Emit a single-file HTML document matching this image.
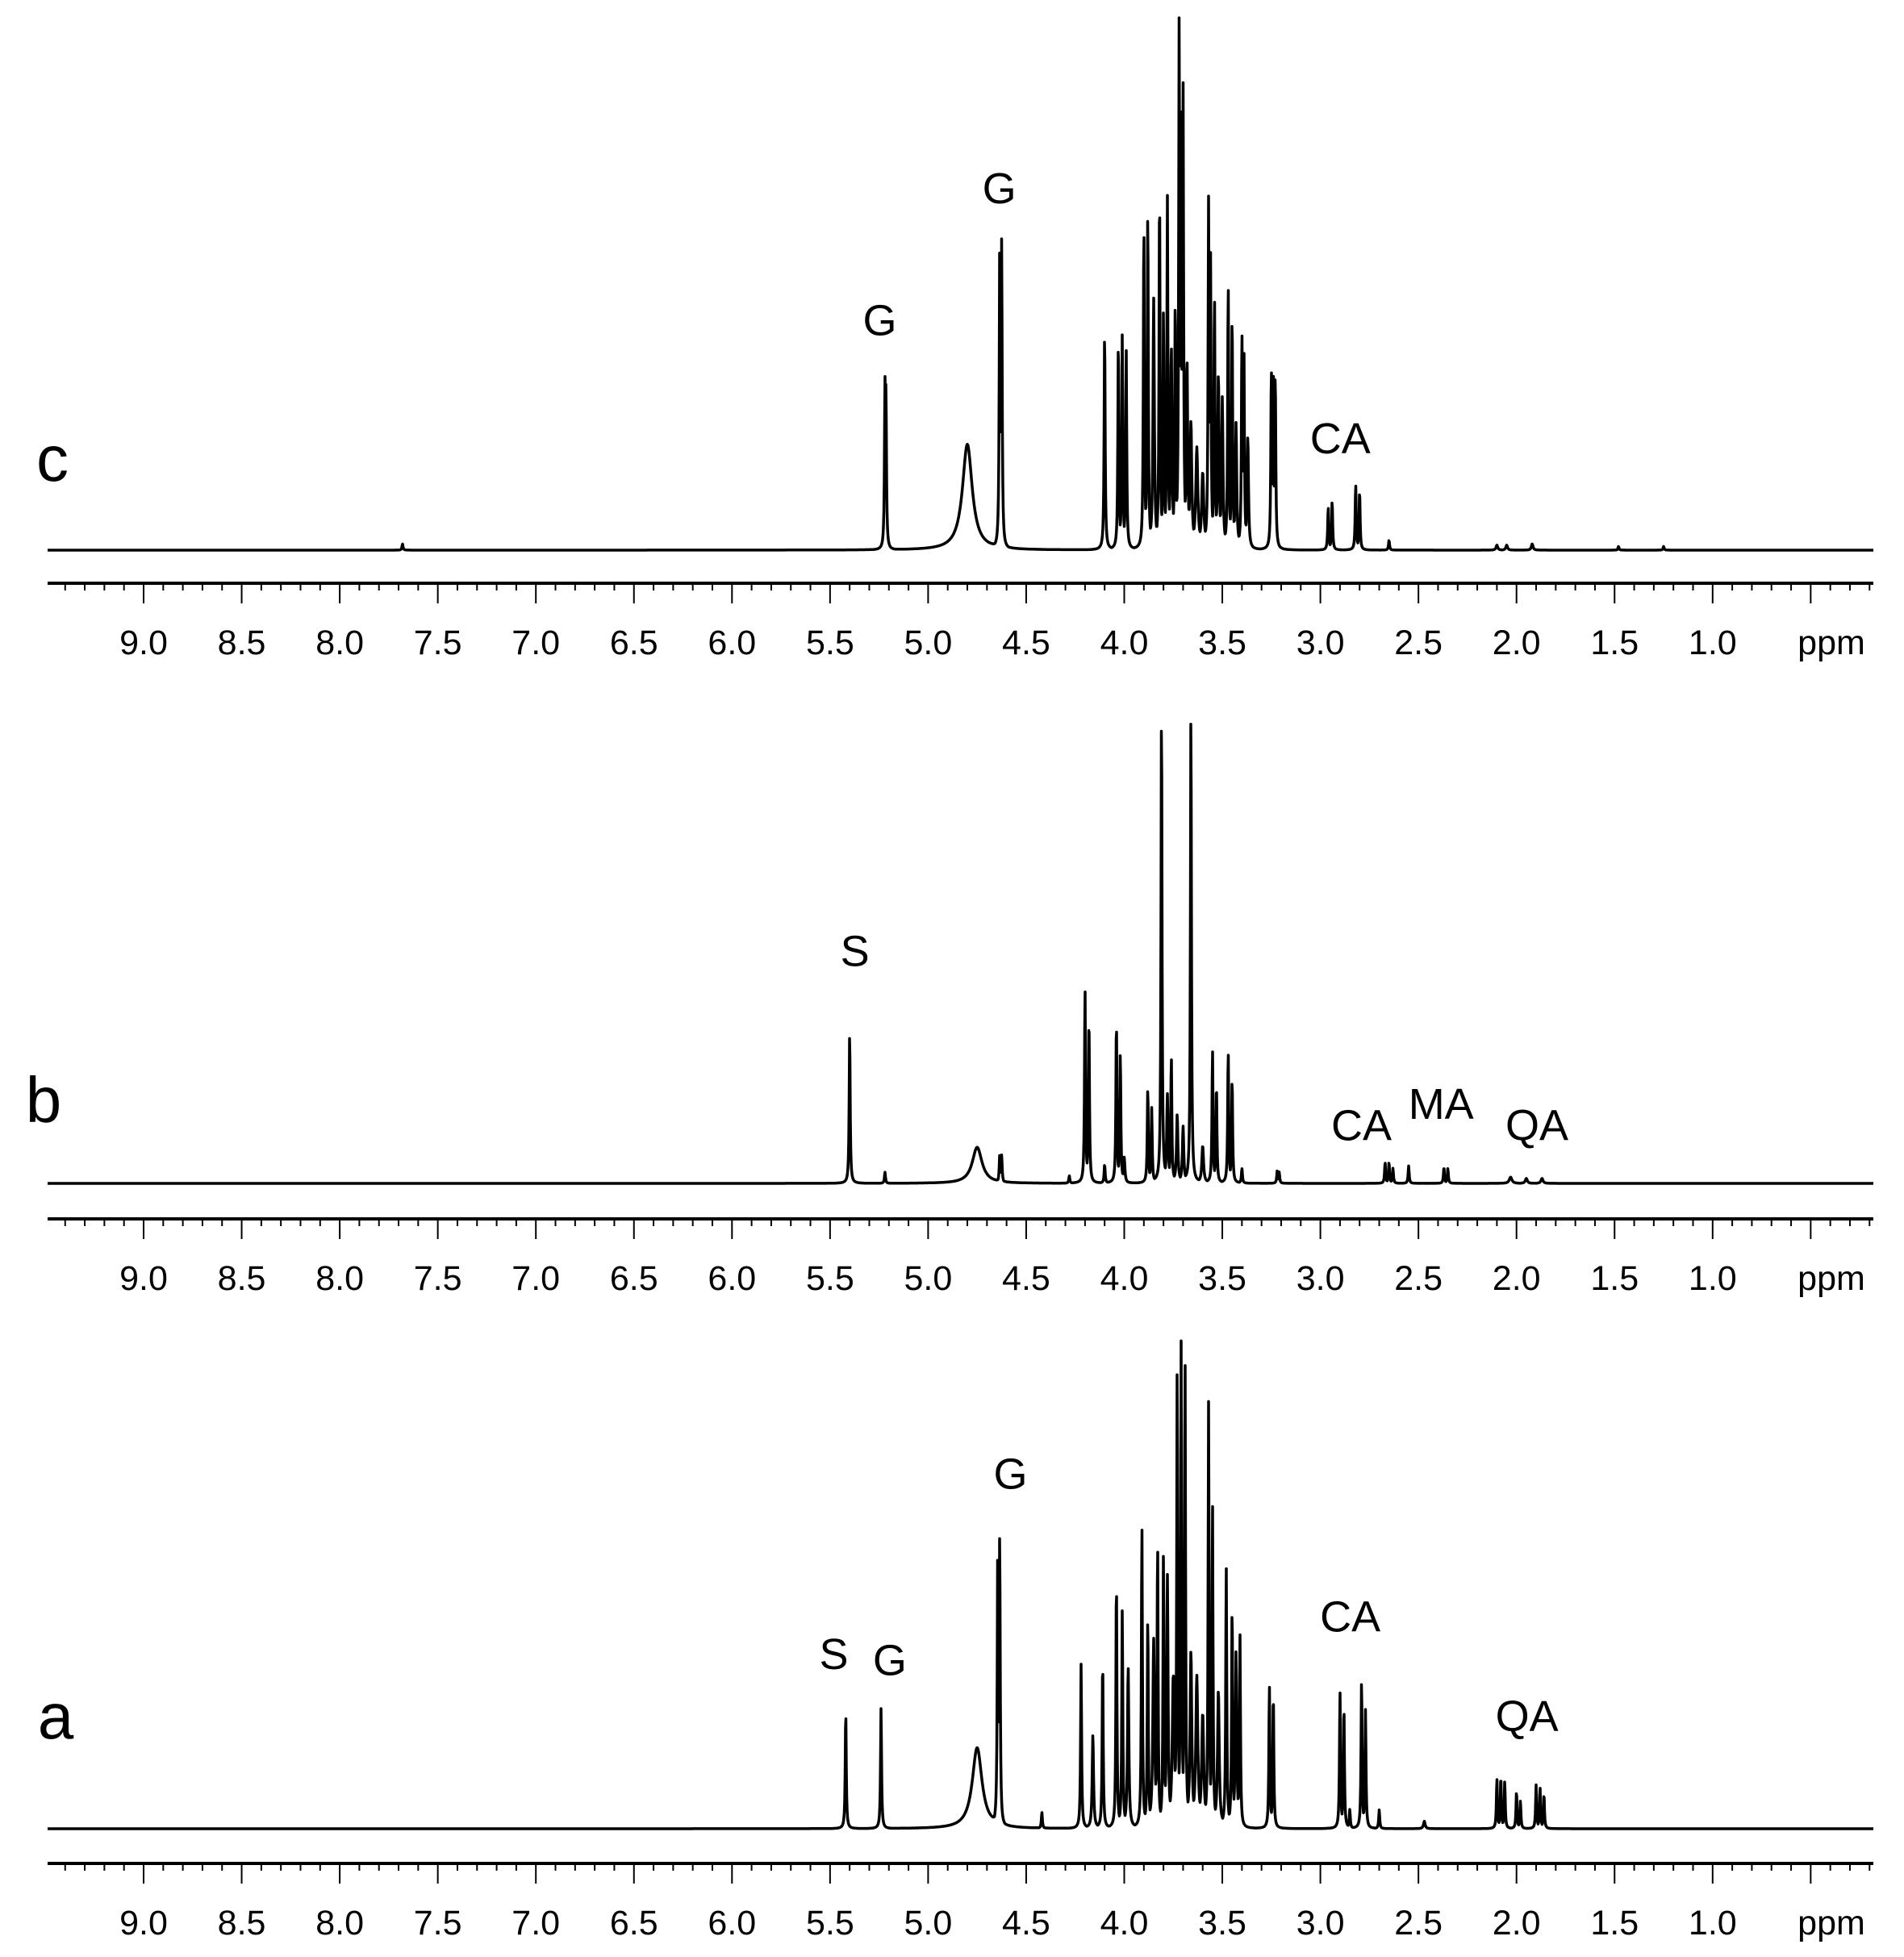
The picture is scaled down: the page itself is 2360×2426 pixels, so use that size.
<!DOCTYPE html>
<html><head><meta charset="utf-8">
<style>
html,body{margin:0;padding:0;background:#fff;}
svg{display:block;}
text{font-family:"Liberation Sans",Arial,sans-serif;fill:#000;}
</style></head>
<body>
<svg id="chart" width="2360" height="2426" viewBox="0 0 2360 2426" xmlns="http://www.w3.org/2000/svg"></svg>
<script>
// ---- data (ppm, intensity in display units, half-width in ppm) ----
const tickLabels = ["9.0","8.5","8.0","7.5","7.0","6.5","6.0","5.5","5.0","4.5","4.0","3.5","3.0","2.5","2.0","1.5","1.0"];
const tickValues = [9.0,8.5,8.0,7.5,7.0,6.5,6.0,5.5,5.0,4.5,4.0,3.5,3.0,2.5,2.0,1.5,1.0];

const cPpm = [7.68,5.22,5.215,4.80,4.635,4.625,4.10,4.03,4.01,3.99,3.90,3.88,3.85,3.82,3.80,3.78,3.76,3.74,3.72,3.71,3.70,3.68,3.66,3.63,3.60,3.57,3.56,3.54,3.52,3.50,3.47,3.45,3.43,3.40,3.39,3.37,3.25,3.24,3.23,2.96,2.94,2.82,2.80,2.65,2.10,2.05,1.92,1.48,1.25];
const cInt = [5,130,125,85,240,245,178,170,172,160,265,275,200,292,190,280,160,200,418,330,365,150,100,80,60,277,230,205,140,120,215,190,100,172,165,90,145,147,140,35,40,53,48,8,4,4,5,3,3];
const cWid = [.003,.003,.003,.03,.003,.003,.003,.003,.003,.003,.003,.003,.004,.003,.003,.003,.004,.003,.003,.003,.003,.004,.005,.006,.006,.003,.003,.003,.004,.004,.003,.003,.004,.003,.003,.004,.003,.003,.003,.003,.003,.003,.003,.003,.005,.005,.005,.003,.003];

const bPpm = [5.40,5.22,4.75,4.635,4.625,4.28,4.20,4.18,4.10,4.04,4.02,4.00,3.88,3.86,3.81,3.78,3.76,3.73,3.70,3.66,3.60,3.55,3.53,3.47,3.45,3.40,3.22,3.21,2.67,2.65,2.63,2.55,2.37,2.35,2.03,1.95,1.87];
const bInt = [122,9,29,22,22,6,157,135,15,132,105,20,77,60,387,70,102,55,45,385,30,107,80,107,85,12,10,9,17,17,12,14,13,12,5,4,4];
const bWid = [.003,.003,.03,.003,.003,.003,.003,.003,.003,.003,.003,.004,.003,.003,.003,.004,.003,.004,.004,.003,.005,.003,.003,.003,.003,.003,.003,.003,.003,.003,.003,.003,.003,.003,.008,.006,.006];

const aPpm = [5.42,5.24,4.75,4.645,4.635,4.42,4.22,4.16,4.11,4.04,4.01,3.98,3.91,3.88,3.85,3.83,3.80,3.78,3.75,3.73,3.71,3.69,3.66,3.63,3.60,3.57,3.55,3.52,3.48,3.45,3.43,3.41,3.26,3.24,2.90,2.88,2.85,2.79,2.77,2.70,2.47,2.10,2.08,2.06,2.00,1.98,1.90,1.88,1.86];
const aInt = [95,97,65,225,233,13,132,75,137,203,175,130,245,170,150,230,220,200,120,370,385,380,140,120,90,340,260,110,210,180,140,155,115,110,110,100,15,120,95,15,6,40,42,38,30,22,35,33,28];
const aWid = [.003,.003,.03,.003,.003,.003,.003,.004,.003,.003,.003,.004,.003,.003,.005,.003,.003,.004,.006,.003,.003,.003,.005,.006,.006,.003,.003,.005,.003,.003,.004,.003,.003,.003,.003,.003,.003,.003,.003,.003,.005,.003,.003,.003,.003,.003,.003,.003,.003];

// ---- geometry ----
const NS="http://www.w3.org/2000/svg";
const svg=document.getElementById('chart');
const X0=178, PX_PER_PPM=243.1, XL=59, XR=2322;
const YS=1.5425;
function xScale(p){return X0+(9-p)*PX_PER_PPM;}
function mk(tag,attrs){const e=document.createElementNS(NS,tag);for(const k in attrs)e.setAttribute(k,attrs[k]);svg.appendChild(e);return e;}

const panels=[
 {name:'c',ppm:cPpm,int:cInt,wid:cWid,base:682,axis:723,labY:811,letter:[65,596],
  peaks:[["G",707,268],["G",803,162],["CA",1077,363]]},
 {name:'b',ppm:bPpm,int:bInt,wid:bWid,base:1467,axis:1511,labY:1599,letter:[54,1391],
  peaks:[["S",687,775],["CA",1094,915],["MA",1158,898],["QA",1235,915]]},
 {name:'a',ppm:aPpm,int:aInt,wid:aWid,base:2267,axis:2310,labY:2398,letter:[69,2155],
  peaks:[["S",670,1340],["G",715,1345],["G",812,1195],["CA",1085,1310],["QA",1227,1390]]}
];

panels.forEach(P=>{
  let d='';
  for(let x=XL;x<=XR;x+=0.5){
    const p=9-(x-X0)/PX_PER_PPM;
    let s=0,m=0;
    for(let i=0;i<P.ppm.length;i++){const dx=(p-P.ppm[i])/P.wid[i];const v=P.int[i]/(1+dx*dx);s+=v;if(v>m)m=v;}
    const y=m+0.3*(s-m);
    d+=(d?'L':'M')+x.toFixed(1)+','+(P.base-y*YS).toFixed(1);
  }
  const path=mk('path',{d:d,fill:'none',stroke:'#000','stroke-width':3.5,'stroke-linejoin':'round'});
  
  
  const ax=mk('line',{x1:XL,x2:XR,y1:P.axis,y2:P.axis,stroke:'#000','stroke-width':4});
  
  
  for(let k=0;k<=94;k++){
    const p=9.4-k*0.1; const x=xScale(p);
    if(x<XL||x>XR) continue;
    const major=Math.abs(Math.round(p*2)-p*2)<1e-6;
    const t=mk('line',{x1:x,x2:x,y1:P.axis,y2:P.axis+(major?25:9),stroke:'#000','stroke-width':2});
    
    
  }
  tickValues.forEach((v,i)=>{
    const t=mk('text',{x:xScale(v),y:P.labY,'font-size':43,'text-anchor':'middle'});
    t.textContent=tickLabels[i];
    
    
  });
  const u=mk('text',{x:2270,y:P.labY,'font-size':43,'text-anchor':'middle'});
  u.textContent='ppm';
  
  
  const L=mk('text',{x:P.letter[0],y:P.letter[1],'font-size':80,'text-anchor':'middle'});
  L.textContent=P.name;
  
  
  P.peaks.forEach(pk=>{
    const t=mk('text',{x:pk[1]*YS,y:pk[2]*YS+2,'font-size':54,'text-anchor':'middle'});
    t.textContent=pk[0];
    
    
  });
});
</script>
</body></html>
